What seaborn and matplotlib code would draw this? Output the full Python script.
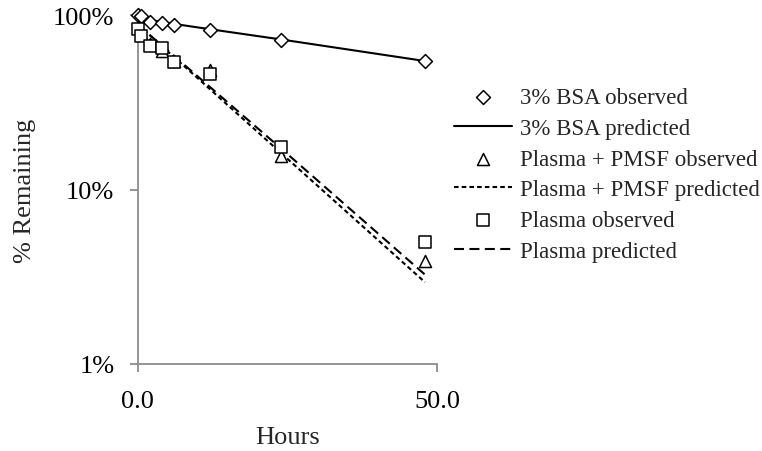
import pandas as pd
import numpy as np
from matplotlib import pyplot as plt
from matplotlib.ticker import FixedLocator, FixedFormatter, NullLocator
import seaborn as sns

# observed time points (hours)
hours_obs = [0, 0.5, 2, 4, 6, 12, 24, 48]

bsa_obs = [100, 98.7, 91, 90, 87.6, 82, 72, 54.5]
pmsf_obs = [85.3, 77.9, 68.2, 62.2, 54.5, 48.4, 15.6, 3.87]
plasma_obs = [83.1, 75.8, 66.4, 64.7, 53.8, 45.9, 17.5, 4.97]

# predicted curves
hours_pred = [0, 6, 12, 24, 48]
bsa_pred = [96, 89, 83, 72.4, 54.5]
pmsf_pred = [88, 57.6, 37.7, 16.1, 2.94]
plasma_pred = [88, 58.4, 38.8, 17.1, 3.25]

sns.set_style("white")
plt.rcParams['font.family'] = ['Liberation Serif', 'DejaVu Serif']

fig = plt.figure(figsize=(7.62, 4.52), dpi=100)
ax = fig.add_axes([0.181, 0.1925, 0.3925, 0.772])

mk = dict(color='white', edgecolor='black', linewidth=1.1, zorder=3, clip_on=False)
lw = 1.5

sns.scatterplot(x=hours_obs, y=bsa_obs, marker='D', s=50, ax=ax,
                label='3% BSA observed', **mk)
sns.lineplot(x=hours_pred, y=bsa_pred, color='black', linewidth=lw, ax=ax,
             label='3% BSA predicted')
sns.scatterplot(x=hours_obs, y=pmsf_obs, marker='^', s=75, ax=ax,
                label='Plasma + PMSF observed', **mk)
sns.lineplot(x=hours_pred, y=pmsf_pred, color='black', linewidth=lw, ax=ax,
             label='Plasma + PMSF predicted', dashes=False)
sns.scatterplot(x=hours_obs, y=plasma_obs, marker='s', s=68, ax=ax,
                label='Plasma observed', **mk)
sns.lineplot(x=hours_pred, y=plasma_pred, color='black', linewidth=lw, ax=ax,
             label='Plasma predicted')

lines = ax.get_lines()
lines[1].set_dashes((2.2, 1.5))
lines[2].set_dashes((4.8, 2.6))

ax.set_yscale('log')
ax.set_ylim(1, 100)
ax.set_xlim(0, 50)
ax.yaxis.set_major_locator(FixedLocator([1, 10, 100]))
ax.yaxis.set_major_formatter(FixedFormatter(['1%', '10%', '100%']))
ax.yaxis.set_minor_locator(NullLocator())
ax.set_xticks([0, 50])
ax.set_xticklabels(['0.0', '50.0'])

for side in ['top', 'right']:
    ax.spines[side].set_visible(False)
for side in ['left', 'bottom']:
    ax.spines[side].set_color('#8c8c8c')
    ax.spines[side].set_linewidth(1.3)
ax.tick_params(axis='both', which='major', direction='out', length=6, width=1.3,
               color='#8c8c8c', labelsize=19, labelcolor='black')
ax.tick_params(axis='x', bottom=True, pad=13)
ax.tick_params(axis='y', left=True, pad=11)

ax.set_xlabel('Hours', fontsize=19, labelpad=10)
ax.set_ylabel('% Remaining', fontsize=19, labelpad=12)

handles, labels = ax.get_legend_handles_labels()
ax.legend(handles, labels, loc='upper left', bbox_to_anchor=(443 / 762, 1 - 77 / 452),
          bbox_transform=fig.transFigure, frameon=False, fontsize=16.5, borderpad=0,
          handlelength=2.5, handletextpad=0.35, labelspacing=0.42)

fig.savefig('out.png', dpi=100)
